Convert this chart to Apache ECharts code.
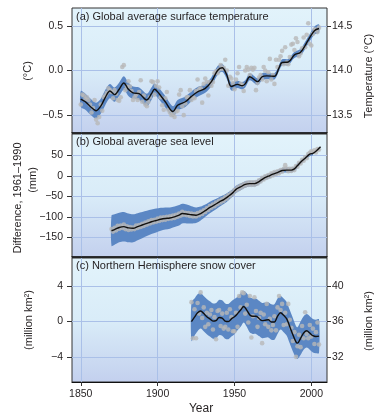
<!DOCTYPE html>
<html><head><meta charset="utf-8">
<script src="https://cdn.jsdelivr.net/npm/echarts@6/dist/echarts.min.js"></script>
<style>html,body{margin:0;padding:0;background:#fff}#c{width:388px;height:416px}</style>
</head><body><div id="c"></div>
<script>
// ---------- DATA ----------
const yearTicks = [1850, 1900, 1950, 2000];

// (a) temperature anomaly (°C, vs 1961-1990), annual values from 1850
const tempStart = 1850;
const tempDots = [
 -0.38,-0.27,-0.28,-0.32,-0.30,-0.33,-0.38,-0.47,-0.42,-0.33,
 -0.55,-0.59,-0.52,-0.38,-0.45,-0.30,-0.28,-0.25,-0.20,-0.22,
 -0.24,-0.31,-0.22,-0.26,-0.33,-0.34,-0.30,0.04,0.06,-0.22,
 -0.18,-0.12,-0.18,-0.23,-0.33,-0.30,-0.27,-0.33,-0.24,-0.11,
 -0.35,-0.28,-0.38,-0.40,-0.35,-0.30,-0.12,-0.13,-0.27,-0.17,
 -0.12,-0.19,-0.30,-0.39,-0.44,-0.31,-0.24,-0.44,-0.47,-0.50,
 -0.49,-0.52,-0.46,-0.45,-0.27,-0.22,-0.40,-0.50,-0.37,-0.30,
 -0.30,-0.22,-0.33,-0.30,-0.31,-0.23,-0.10,-0.21,-0.20,-0.36,
 -0.15,-0.09,-0.13,-0.28,-0.13,-0.17,-0.13,-0.03,-0.01,-0.03,
 0.01,0.06,0.02,0.03,0.12,0.00,-0.17,-0.07,-0.09,-0.14,
 -0.21,-0.10,-0.03,0.04,-0.15,-0.16,-0.23,0.00,0.04,0.01,
 -0.05,0.03,0.01,0.03,-0.22,-0.14,-0.08,-0.05,-0.10,0.04,
 0.00,-0.12,-0.02,0.13,-0.10,-0.05,-0.15,0.12,0.04,0.12,
 0.16,0.22,0.07,0.26,0.09,0.07,0.15,0.29,0.30,0.23,
 0.36,0.32,0.16,0.19,0.25,0.37,0.26,0.40,0.53,0.30,
 0.28,0.41,0.46,0.46,0.43,0.48];
const tempLineYears = [1850,1853,1856,1860,1863,1866,1869,1872,1875,1878,1881,1884,1888,1893,1896,1898,1901,1905,1910,1913,1918,1922,1926,1931,1935,1939,1942,1945,1948,1952,1955,1957,1960,1965,1968,1971,1976,1979,1981,1985,1989,1993,1998,2002,2005];
const tempLine = [-0.32,-0.35,-0.40,-0.45,-0.40,-0.30,-0.23,-0.27,-0.21,-0.14,-0.21,-0.25,-0.26,-0.33,-0.26,-0.21,-0.26,-0.35,-0.46,-0.39,-0.35,-0.29,-0.24,-0.20,-0.125,0.0,0.03,-0.05,-0.18,-0.155,-0.17,-0.15,-0.07,-0.125,-0.07,-0.06,-0.065,0.03,0.09,0.095,0.175,0.205,0.34,0.445,0.47];
const tempBandHalf = [0.09,0.09,0.09,0.09,0.085,0.085,0.08,0.08,0.075,0.075,0.075,0.07,0.07,0.07,0.07,0.065,0.065,0.065,0.06,0.06,0.06,0.055,0.055,0.05,0.05,0.05,0.045,0.045,0.045,0.04,0.04,0.04,0.04,0.04,0.04,0.035,0.035,0.035,0.035,0.035,0.035,0.04,0.04,0.045,0.045];
const tempLeftTicks = [-0.5, 0, 0.5];
const tempAbsOffset = 14.0;
const tempRightTicks = [13.5, 14.0, 14.5];

// (b) sea level (mm, vs 1961-1990), annual values from 1870
const seaStart = 1870;
const seaDots = [
 -130,-136,-127,-133,-122,-129,-121,-127,-119,-130,
 -123,-132,-125,-131,-126,-130,-121,-127,-120,-125,
 -117,-122,-114,-119,-111,-116,-108,-114,-107,-112,
 -104,-110,-102,-108,-101,-107,-100,-105,-99,-104,
 -97,-103,-95,-100,-92,-97,-88,-95,-90,-96,
 -91,-98,-92,-99,-93,-99,-91,-96,-88,-93,
 -84,-88,-79,-83,-74,-78,-70,-74,-65,-69,
 -61,-65,-57,-61,-52,-56,-47,-50,-41,-44,
 -34,-36,-28,-32,-24,-28,-20,-24,-17,-22,
 -16,-22,-16,-22,-15,-19,-11,-14,-5,-9,
 -1,-5,2,-2,6,1,9,4,11,6,
 14,10,17,26,18,11,17,12,18,14,
 24,22,32,30,39,37,46,43,53,56,
 60,58,62,57,65,64];
const seaLineYears = [1870,1872,1875,1878,1881,1884,1887,1890,1893,1896,1899,1902,1905,1908,1911,1914,1916,1919,1922,1925,1928,1931,1934,1937,1940,1943,1946,1949,1951,1954,1957,1960,1963,1966,1969,1972,1975,1978,1981,1984,1987,1989,1991,1993,1996,1999,2001,2003,2006];
const seaLine = [-134,-131,-126,-124,-127,-128,-124,-120,-116,-112,-109,-106,-104,-103,-100,-96,-92,-93,-95,-96,-92,-85,-77,-71,-64,-58,-50,-41,-33,-27,-21,-19,-19,-14,-6,-1,4,8,13,14,14,17,25,33,43,53,55,60,71];
const seaBandHalf = [37,37,36,36,35,34,33,32,31,30,29,28,27,26,25,25,24,23,21,19,17,15,14,13,12,11,10,9,9,8,8,7,7,7,6,6,6,6,6,6,6,6,6,5,5,5,5];
const seaLeftTicks = [-150, -100, -50, 0, 50];

// (c) NH snow cover (million km², vs 1961-1990), annual values from 1922
const snowStart = 1922;
const snowDots = [
 2.2,-1.9,1.4,-1.9,2.1,0.9,3.3,0.4,1.6,-0.6,
 1.0,-0.3,0.8,1.3,-0.9,0.5,-2.0,1.2,1.3,-0.5,
 0.9,-0.8,-0.6,1.0,-0.9,1.4,0.5,-1.1,-1.1,1.0,
 -0.6,2.9,1.6,3.3,3.2,0.9,1.9,-0.1,2.9,-1.8,
 0.6,2.75,1.2,-0.6,0.4,1.0,-2.45,0.8,-0.3,2.0,
 -0.6,0.3,-1.0,-0.4,0.6,-1.0,1.6,2.9,1.3,2.0,
 -0.4,1.0,-0.3,2.0,0.2,-0.7,-2.2,-1.2,-4.0,-2.8,
 -1.5,-2.9,-0.5,-1.9,1.05,-1.4,-1.9,-0.4,-1.7,-0.8,
 -2.55,-1.2,-0.1,-2.6];
const snowLineYears = [1922,1924,1926,1928,1930,1932,1934,1936,1938,1940,1942,1944,1946,1948,1950,1952,1954,1956,1958,1960,1962,1964,1966,1968,1970,1972,1974,1976,1978,1980,1982,1984,1986,1988,1990,1991,1993,1995,1997,1999,2001,2003,2005];
const snowLine = [0.0,0.5,1.0,1.2,0.9,0.55,0.3,0.05,0.1,0.45,0.4,0.05,0.0,0.3,0.55,0.9,1.3,1.7,1.3,0.75,0.6,0.6,0.35,0.1,0.15,0.2,-0.05,-0.05,0.6,1.0,0.7,0.3,-0.6,-1.5,-2.3,-2.45,-1.9,-1.3,-1.05,-1.3,-1.6,-1.7,-1.65];
const snowBandHalf = [2.2,2.1,2.1,2.0,2.0,2.0,2.0,2.0,2.0,2.0,2.0,2.0,2.0,2.0,2.0,1.9,1.9,1.8,1.9,2.0,2.0,2.0,2.0,2.0,2.0,2.0,2.0,2.0,2.0,1.9,1.9,1.9,1.9,1.9,1.8,1.8,1.9,1.9,1.9,1.9,1.9,1.9,1.9];
const snowLeftTicks = [-4, 0, 4];
const snowAbsOffset = 36;
const snowRightTicks = [32, 36, 40];

// ---------- CHART ----------
const FONT = '"Liberation Sans", Arial, Helvetica, sans-serif';
const TXT = '#231f20';
const BAND = '#5b87c4';
const DOT = '#b8b8b8';
const GRIDLINE = '#aac0e8';
const X_MIN = 1844.3, X_MAX = 2010.2;
const yRanges = [[-0.70, 0.70], [-198, 102], [-6.85, 7.2]];

const minus = v => (v < 0 ? '\u2212' : '') + Math.abs(v);
const fmt1 = v => (v < 0 ? '\u2212' : '') + Math.abs(v).toFixed(1);

const bg = {type:'linear', x:0, y:0, x2:0, y2:1, colorStops:[
  {offset:0, color:'#e2f3fb'}, {offset:0.5, color:'#d9ecf8'}, {offset:1, color:'#c3d0ee'}]};

const grids = [
  {left:72, top:8, width:255, height:125},
  {left:72, top:134, width:255, height:123},
  {left:72, top:258, width:255, height:124}
].map(g => Object.assign(g, {show:true, backgroundColor:bg, borderColor:'#333', borderWidth:1, containLabel:false}));

const xAxes = [0,1,2].map(i => ({
  type:'value', gridIndex:i, min:X_MIN, max:X_MAX,
  axisLine:{show:true, onZero:false, lineStyle:{color:'#111', width: i < 2 ? 1.5 : 1.2}},
  axisTick:{show:i===2, customValues:yearTicks, length:4, lineStyle:{color:'#333'}},
  axisLabel:{show:i===2, customValues:yearTicks, formatter:v => String(v), fontSize:10.5, color:TXT, fontFamily:FONT, margin:7},
  splitLine:{show:true, lineStyle:{color:GRIDLINE, width:1}}
}));

function leftY(i, ticks, fmt){
  return {type:'value', gridIndex:i, position:'left', min:yRanges[i][0], max:yRanges[i][1],
    axisLine:{show:false},
    axisTick:{show:true, customValues:ticks, length:5, lineStyle:{color:'#333'}},
    axisLabel:{customValues:ticks, formatter:fmt, fontSize:10.5, color:TXT, fontFamily:FONT, margin:9},
    splitLine:{show:true, lineStyle:{color:GRIDLINE, width:1}}};
}
function rightY(i, off, ticks, fmt){
  return {type:'value', gridIndex:i, position:'right', min:yRanges[i][0]+off, max:yRanges[i][1]+off,
    axisLine:{show:false},
    axisTick:{show:true, customValues:ticks, length:4, lineStyle:{color:'#333'}},
    axisLabel:{customValues:ticks, formatter:fmt, fontSize:10.5, color:TXT, fontFamily:FONT, margin:5},
    splitLine:{show:false}};
}
const yAxes = [
  leftY(0, tempLeftTicks, fmt1),
  rightY(0, tempAbsOffset, tempRightTicks, v => v.toFixed(1)),
  leftY(1, seaLeftTicks, minus),
  leftY(2, snowLeftTicks, minus),
  rightY(2, snowAbsOffset, snowRightTicks, v => String(v))
];

function bandSeries(xi, yi, years, line, half){
  const data = half.map((h, k) => [years[k], line[k] - h, line[k] + h]);
  return {type:'custom', xAxisIndex:xi, yAxisIndex:yi, data:data, clip:true, z:2, silent:true,
    encode:{x:0, y:[1,2]},
    renderItem:function(params, api){
      if (params.dataIndex !== 0) return null;
      const up = data.map(d => api.coord([d[0], d[2]]));
      const lo = data.map(d => api.coord([d[0], d[1]])).reverse();
      return {type:'polygon', shape:{points:up.concat(lo), smooth:0.3}, style:{fill:BAND}};
    }};
}

function panelSeries(xi, yi, start, dots, lineYears, line, half){
  return [
    bandSeries(xi, yi, lineYears, line, half),
    {type:'scatter', xAxisIndex:xi, yAxisIndex:yi, data:dots.map((v,k)=>[start+k, v]),
     symbol:'circle', symbolSize:4.6, itemStyle:{color:DOT}, silent:true, z:3},
    {type:'line', xAxisIndex:xi, yAxisIndex:yi, data:lineYears.map((y,k)=>[y, line[k]]), symbol:'none', smooth:0.35,
     lineStyle:{color:'#111', width:1.4}, silent:true, z:4}
  ];
}

const series = [].concat(
  panelSeries(0, 0, tempStart, tempDots, tempLineYears, tempLine, tempBandHalf),
  panelSeries(1, 2, seaStart, seaDots, seaLineYears, seaLine, seaBandHalf),
  panelSeries(2, 3, snowStart, snowDots, snowLineYears, snowLine, snowBandHalf)
);

const tstyle = {fontSize:11, fontWeight:'normal', color:TXT, fontFamily:FONT};
const titles = [
  {text:'(a) Global average surface temperature', left:76, top:11, padding:0, textStyle:tstyle},
  {text:'(b) Global average sea level', left:76, top:136, padding:0, textStyle:tstyle},
  {text:'(c) Northern Hemisphere snow cover', left:76, top:260, padding:0, textStyle:tstyle}
];

function vtext(x, y, text){
  return {type:'text', x:x, y:y, rotation:Math.PI/2, z:10,
    style:{text:text, fill:TXT, font:'11px ' + FONT, align:'center', verticalAlign:'middle'}};
}
const graphics = [
  vtext(28, 71, '(°C)'),
  vtext(369, 76, 'Temperature (°C)'),
  vtext(18, 198, 'Difference, 1961\u20131990'),
  vtext(33, 180, '(mm)'),
  vtext(29, 320, '(million km\u00b2)'),
  vtext(369, 321, '(million km\u00b2)'),
  {type:'text', x:201, y:409, z:10, style:{text:'Year', fill:TXT, font:'12px ' + FONT, align:'center', verticalAlign:'middle'}}
];

const chart = echarts.init(document.getElementById('c'), null, {renderer:'canvas'});
chart.setOption({
  animation:false,
  backgroundColor:'#ffffff',
  title:titles,
  grid:grids,
  xAxis:xAxes,
  yAxis:yAxes,
  series:series,
  graphic:graphics
});
</script>
</body></html>
